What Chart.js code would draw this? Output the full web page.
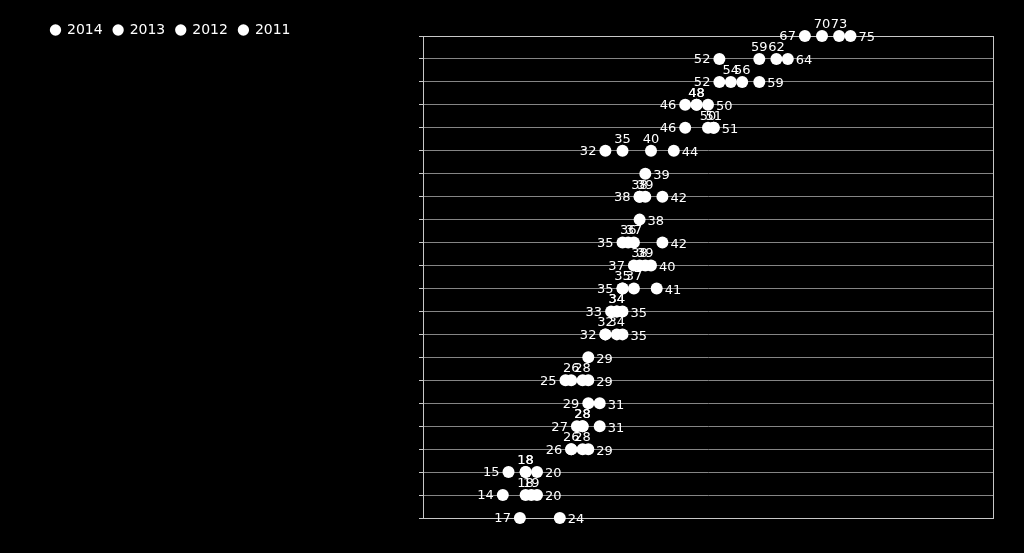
<!DOCTYPE html>
<html>
<head>
<meta charset="utf-8">
<script src="https://cdn.jsdelivr.net/npm/chart.js@4"></script>
<style>
  html, body { margin: 0; padding: 0; background: #000; }
  canvas { display: block; }
</style>
</head>
<body>
<canvas id="chart" width="1024" height="553"></canvas>
<script>
// rows from top (1) to bottom (22), no visible row names in the picture
const rows = [1, 2, 3, 4, 5, 6, 7, 8, 9, 10, 11, 12, 13, 14, 15, 16, 17, 18, 19, 20, 21, 22];

const years = ["2014", "2013", "2012", "2011"];

const v2014 = [75, 64, 59, 50, 51, 44, 39, 42, 38, 42, 40, 41, 35, 35, 29, 29, 31, 31, 29, 20, 20, 24];
const v2013 = [73, 62, 56, 48, 51, 40, null, 39, null, 37, 39, 37, 34, 34, null, 28, null, 28, 28, 18, 19, null];
const v2012 = [70, 59, 54, 48, 50, 35, null, 38, null, 36, 38, 35, 34, 32, null, 26, null, 28, 26, 18, 18, null];
const v2011 = [67, 52, 52, 46, 46, 32, null, 38, null, 35, 37, 35, 33, 32, null, 25, 29, 27, 26, 15, 14, 17];

const xMin = 0;
const xMax = 100;

// where each series puts its value label
const labelSide = { "2014": "right", "2013": "above", "2012": "above", "2011": "left" };

function toPoints(values) {
    const pts = [];
    values.forEach((v, i) => {
        if (v !== null) pts.push({ x: v, y: rows[i] });
    });
    return pts;
}

const seriesValues = [v2014, v2013, v2012, v2011];

const datasets = years.map((yr, i) => ({
    label: yr,
    data: toPoints(seriesValues[i]),
    backgroundColor: "#ffffff",
    borderColor: "#ffffff",
    borderWidth: 0,
    pointRadius: 6,
    pointHoverRadius: 6,
    pointStyle: "circle",
    clip: false
}));

// frame around the plot area
const framePlugin = {
    id: "frame",
    beforeDatasetsDraw(chart) {
        const a = chart.chartArea;
        const ctx = chart.ctx;
        ctx.save();
        ctx.strokeStyle = "#c8c8c8";
        ctx.lineWidth = 1;
        ctx.strokeRect(Math.round(a.left) + 0.5, Math.round(a.top) + 0.5,
            Math.round(a.right - a.left), Math.round(a.bottom - a.top));
        ctx.restore();
    }
};

// value labels next to the dots
const valueLabels = {
    id: "valueLabels",
    afterDatasetsDraw(chart) {
        const ctx = chart.ctx;
        ctx.save();
        ctx.font = "13px 'DejaVu Sans'";
        ctx.fillStyle = "#ffffff";
        chart.data.datasets.forEach((ds, di) => {
            const side = labelSide[ds.label];
            const meta = chart.getDatasetMeta(di);
            meta.data.forEach((pt, pi) => {
                const txt = String(ds.data[pi].x);
                if (side === "left") {
                    ctx.textAlign = "right";
                    ctx.textBaseline = "middle";
                    ctx.fillText(txt, pt.x - 9, pt.y + 1);
                } else if (side === "right") {
                    ctx.textAlign = "left";
                    ctx.textBaseline = "middle";
                    ctx.fillText(txt, pt.x + 8, pt.y + 2);
                } else {
                    ctx.textAlign = "center";
                    ctx.textBaseline = "bottom";
                    ctx.fillText(txt, pt.x, pt.y - 5);
                }
            });
        });
        ctx.restore();
    }
};

// push the legend a bit lower, closer to the plot top
const legendShift = {
    id: "legendShift",
    afterLayout(chart) {
        chart.legend.top += 11;
        chart.legend.bottom += 11;
    }
};

new Chart(document.getElementById("chart"), {
    type: "scatter",
    data: { datasets },
    options: {
        responsive: false,
        animation: false,
        layout: { padding: { left: 40, right: 31, top: 1, bottom: 0 } },
        plugins: {
            legend: {
                position: "top",
                align: "start",
                labels: {
                    color: "#ffffff",
                    font: { family: "'DejaVu Sans'", size: 14 },
                    usePointStyle: true,
                    pointStyle: "circle",
                    boxWidth: 9,
                    boxHeight: 8,
                    padding: 11
                }
            },
            tooltip: { enabled: false }
        },
        scales: {
            x: {
                type: "linear",
                min: xMin,
                max: xMax,
                ticks: { display: false },
                grid: { display: false },
                border: { display: false },
                afterFit(scale) { scale.height = 35; }
            },
            y: {
                type: "linear",
                reverse: true,
                min: rows[0],
                max: rows[rows.length - 1],
                ticks: { display: false, stepSize: 1 },
                grid: { color: "#858585", lineWidth: 1, tickLength: 4, tickColor: "#c8c8c8" },
                border: { display: true, color: "#c8c8c8" },
                afterFit(scale) { scale.width = 423 - 40; }
            }
        }
    },
    plugins: [framePlugin, valueLabels, legendShift]
});
</script>
</body>
</html>
